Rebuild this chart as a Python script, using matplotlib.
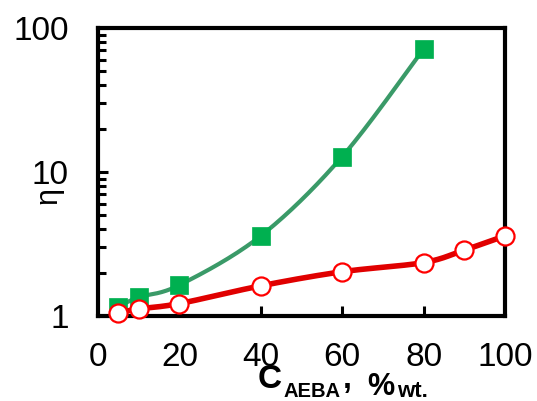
import numpy as np
import matplotlib
matplotlib.use("Agg")
import matplotlib.pyplot as plt
from matplotlib.ticker import LogLocator, NullFormatter, FixedLocator

plt.rcParams['font.family'] = ['Liberation Sans', 'DejaVu Sans']

# Viscosity ratio vs AEBA content
c_green = [5, 10, 20, 40, 60, 80]
eta_green = [1.16, 1.35, 1.64, 3.6, 12.8, 71.5]

c_red = [5, 10, 20, 40, 60, 80, 90, 100]
eta_red = [1.05, 1.12, 1.22, 1.62, 2.03, 2.35, 2.87, 3.6]

x_ticks = [0, 20, 40, 60, 80, 100]
y_ticks = [1, 10, 100]


def smooth(x, y, n=30):
    """Bezier smoothing through the points (x, log y)."""
    px = np.asarray(x, float)
    py = np.log10(np.asarray(y, float))
    P = np.column_stack([px, py])
    m = len(P)
    out = []
    for i in range(m - 1):
        p0 = P[i - 1] if i > 0 else P[i]
        p1 = P[i]
        p2 = P[i + 1]
        p3 = P[i + 2] if i + 2 < m else P[i + 1]
        b1 = p1 + (p2 - p0) / 6.0
        b2 = p2 - (p3 - p1) / 6.0
        t = np.linspace(0, 1, n)[:, None]
        seg = ((1 - t) ** 3) * p1 + 3 * ((1 - t) ** 2) * t * b1 + 3 * (1 - t) * t ** 2 * b2 + t ** 3 * p2
        out.append(seg if i == 0 else seg[1:])
    S = np.vstack(out)
    return S[:, 0], 10 ** S[:, 1]


W, H = 537, 401
fig = plt.figure(figsize=(W / 100, H / 100), dpi=100)
ax = fig.add_axes([98 / W, 1 - 316 / H, (505 - 98) / W, (316 - 28) / H])

ax.set_yscale('log')
ax.set_xlim(0, 100)
ax.set_ylim(1, 100)

gx, gy = smooth(c_green, eta_green)
ax.plot(gx, gy, color='#3a9a68', lw=3.0, zorder=3, solid_capstyle='round')
ax.plot(c_green, eta_green, linestyle='none', marker='s', ms=13.5,
        mfc='#00b050', mec='#00b050', mew=0.5, zorder=4, clip_on=False)

rx, ry = smooth(c_red, eta_red)
ax.plot(rx, ry, color='#e00000', lw=4.0, zorder=5, solid_capstyle='round')
ax.plot(c_red, eta_red, linestyle='none', marker='o', ms=13,
        mfc='white', mec='#ff0000', mew=1.6, zorder=6, clip_on=False)

for s in ax.spines.values():
    s.set_linewidth(3.0)
    s.set_color('black')

ax.xaxis.set_major_locator(FixedLocator(x_ticks))
ax.set_xticklabels([str(v) for v in x_ticks])
ax.yaxis.set_major_locator(FixedLocator(y_ticks))
ax.set_yticklabels([str(v) for v in y_ticks])
ax.yaxis.set_minor_locator(LogLocator(base=10, subs=np.arange(2, 10)))
ax.yaxis.set_minor_formatter(NullFormatter())

ax.tick_params(axis='x', which='major', direction='in', length=7, width=2.2,
               labelsize=24, pad=19, top=False)
ax.tick_params(axis='y', which='major', direction='in', length=7, width=2.2,
               labelsize=24, pad=21, right=False)
ax.tick_params(axis='y', which='minor', direction='in', length=5.5, width=2.2, right=False)
# no x ticks at the axis ends
for t in ax.xaxis.get_major_ticks():
    if t.get_loc() in (0, 100):
        t.tick1line.set_visible(False)

# y-axis label
fig.text(48 / W, 1 - 195 / H, 'η', rotation=90, fontsize=22,
         ha='center', va='center')


# x-axis label: C_AEBA, %_wt.
def fx(px):
    return px / W


def fy(py):
    return 1 - py / H


bold = dict(fontweight='bold', ha='left', va='baseline')
fig.text(fx(258), fy(388), 'C', fontsize=24, **bold)
fig.text(fx(283), fy(397), 'AEBA', fontsize=14.5, **bold)
fig.text(fx(343), fy(388), ',', fontsize=23, **bold)
fig.text(fx(367), fy(395), '%', fontsize=22, **bold)
fig.text(fx(397), fy(397), 'wt.', fontsize=16, **bold)

fig.savefig('out.png', dpi=100)
